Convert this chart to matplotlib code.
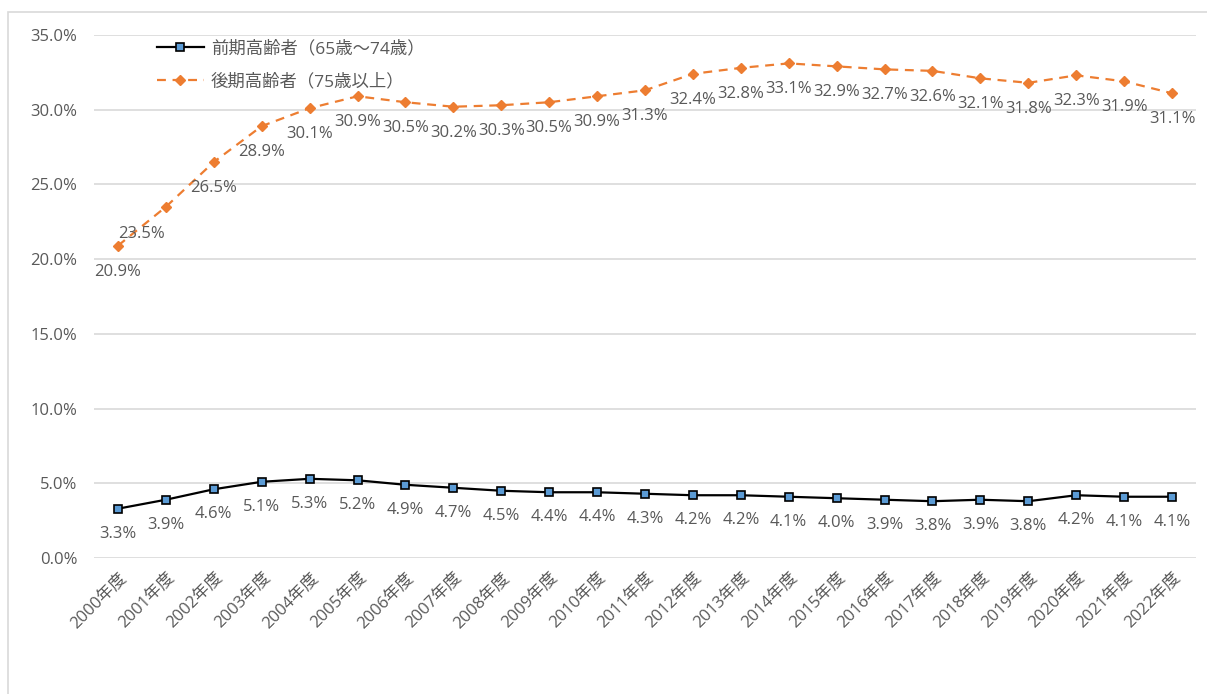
import matplotlib
matplotlib.use("Agg")
import matplotlib.pyplot as plt
from matplotlib.patches import Rectangle
import numpy as np

plt.rcParams['font.family'] = ['Open Sans', 'Noto Sans CJK JP', 'DejaVu Sans']

years = [f"{y}年度" for y in range(2000, 2023)]
early = [3.3, 3.9, 4.6, 5.1, 5.3, 5.2, 4.9, 4.7, 4.5, 4.4, 4.4, 4.3, 4.2, 4.2,
         4.1, 4.0, 3.9, 3.8, 3.9, 3.8, 4.2, 4.1, 4.1]
late = [20.9, 23.5, 26.5, 28.9, 30.1, 30.9, 30.5, 30.2, 30.3, 30.5, 30.9, 31.3,
        32.4, 32.8, 33.1, 32.9, 32.7, 32.6, 32.1, 31.8, 32.3, 31.9, 31.1]
early_name = "前期高齢者（65歳～74歳）"
late_name = "後期高齢者（75歳以上）"

TXT = "#595959"
fig = plt.figure(figsize=(12.07, 6.94), dpi=100)
fig.patches.append(Rectangle((8 / 1207, -0.1), 1.1, 1.1 - 12 / 694,
                             transform=fig.transFigure, fill=False,
                             edgecolor="#D9D9D9", lw=1.2))
ax = fig.add_axes([94 / 1207, 1 - 558 / 694, (1196 - 94) / 1207, (558 - 35) / 694])

x = np.arange(len(years))
ax.plot(x, early, color="black", lw=1.6, marker="s", ms=5.5,
        mfc="#5B9BD5", mec="black", mew=1.2, label=early_name, zorder=3)
ax.plot(x, late, color="#ED7D31", lw=1.6, ls=(0, (4, 3)), marker="D", ms=5,
        mfc="#ED7D31", mec="#ED7D31", label=late_name, zorder=3)

for i, v in enumerate(early):
    ax.annotate(f"{v:.1f}%", (x[i], v), xytext=(0, -25), textcoords="offset pixels",
                ha="center", va="center", fontsize=12, color=TXT)
for i, v in enumerate(late):
    dx = -24 if i == 1 else 0
    dy = -27 if i == 1 else -26
    ax.annotate(f"{v:.1f}%", (x[i], v), xytext=(dx, dy), textcoords="offset pixels",
                ha="center", va="center", fontsize=12, color=TXT)

ax.set_xlim(-0.5, len(years) - 0.5)
ax.set_ylim(0, 35)
ax.set_yticks(np.arange(0, 35.1, 5))
ax.set_yticklabels([f"{t:.1f}%" for t in np.arange(0, 35.1, 5)])
ax.set_xticks(x)
ax.set_xticklabels(years, rotation=45, ha="right", rotation_mode="anchor")
ax.tick_params(axis="both", length=0, labelsize=12, labelcolor=TXT)
ax.tick_params(axis="y", pad=12)
ax.tick_params(axis="x", pad=8)
ax.grid(axis="y", color="#D9D9D9", lw=1.2)
ax.set_axisbelow(True)
for s in ax.spines.values():
    s.set_visible(False)

ax.legend(loc="upper left", bbox_to_anchor=(0.043, 1.02), frameon=False,
          fontsize=12.5, labelcolor=TXT, handlelength=2.7, handletextpad=0.4,
          labelspacing=0.95)

fig.savefig("out.png", dpi=100)
